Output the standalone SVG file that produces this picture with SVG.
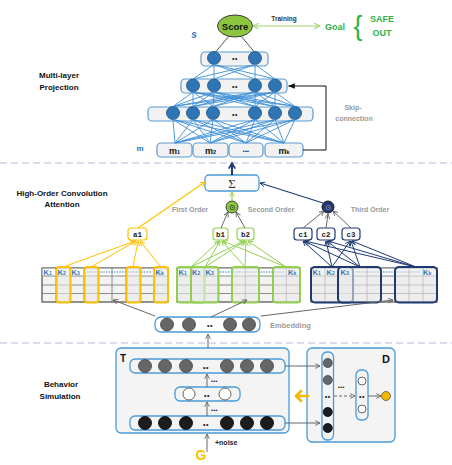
<svg xmlns="http://www.w3.org/2000/svg" width="452" height="465" viewBox="0 0 452 465">
<style>
text{font-family:"Liberation Sans",Arial,sans-serif;font-weight:bold}
.lbl{font-size:8px;fill:#111;text-anchor:middle}
.gray{fill:#9a9a9a;font-size:7px;text-anchor:middle}
.pbox{fill:#f2f2f2;stroke:#5b9bd5;stroke-width:1.2}
.pn{fill:#2e75b6;stroke:#1f4e79;stroke-width:0.8}
.bl{stroke:#3d8fd6;stroke-width:0.9;fill:none}
.sep{stroke:#bdb5dc;stroke-width:1.2;stroke-dasharray:7 4}
.grid{fill:#f3f3f3;stroke:#707070;stroke-width:1}
.gl{stroke:#808080;stroke-width:0.9}
.k{font-size:7.5px;fill:#2e75b6}
.ks{font-size:5px}
.dotl{stroke:#2e75b6;stroke-width:1;stroke-dasharray:1.5 1.2}
.yel{stroke:#ffc000;fill:none}
.grn{stroke:#92d050;fill:none}
.nav{stroke:#1f3a73;fill:none}
.gn{fill:#666;stroke:#444;stroke-width:0.8}
.bn{fill:#1c1c1c;stroke:#000;stroke-width:0.8}
.wn{fill:#fff;stroke:#555;stroke-width:0.9}
.ar{stroke:#666;stroke-width:1;fill:none}
.dd{font-size:7px;fill:#222;text-anchor:middle;letter-spacing:0.6px}
.d3{font-size:5.5px;fill:#222;letter-spacing:0.3px}
.mono{font-family:"Liberation Mono","Courier New",monospace;font-size:7.5px;fill:#222;text-anchor:middle}
.hl{fill:#e9e9e9;fill-opacity:0.6;stroke-width:2}
</style>
<defs>
<marker id="ga" viewBox="0 0 10 10" refX="9" refY="5" markerWidth="6" markerHeight="6" markerUnits="userSpaceOnUse" orient="auto"><path d="M1,1 L9,5 L1,9" fill="none" stroke="#666" stroke-width="1.5"/></marker>
<marker id="ba" viewBox="0 0 10 10" refX="9" refY="5" markerWidth="7" markerHeight="7" markerUnits="userSpaceOnUse" orient="auto"><path d="M0,1 L10,5 L0,9 z" fill="#111"/></marker>
<marker id="ya" viewBox="0 0 10 10" refX="9" refY="5" markerWidth="6" markerHeight="6" markerUnits="userSpaceOnUse" orient="auto"><path d="M1,1 L9,5 L1,9" fill="none" stroke="#ffc000" stroke-width="1.5"/></marker>
<marker id="gra" viewBox="0 0 10 10" refX="9" refY="5" markerWidth="6" markerHeight="6" markerUnits="userSpaceOnUse" orient="auto"><path d="M1,1 L9,5 L1,9" fill="none" stroke="#92d050" stroke-width="1.5"/></marker>
<marker id="na" viewBox="0 0 10 10" refX="9" refY="5" markerWidth="6" markerHeight="6" markerUnits="userSpaceOnUse" orient="auto"><path d="M1,1 L9,5 L1,9" fill="none" stroke="#1f3a73" stroke-width="1.5"/></marker>
<marker id="lga" viewBox="0 0 10 10" refX="9" refY="5" markerWidth="7" markerHeight="7" markerUnits="userSpaceOnUse" orient="auto-start-reverse"><path d="M1,1 L9,5 L1,9" fill="none" stroke="#9fd46a" stroke-width="1.5"/></marker>
<marker id="nup" viewBox="0 0 10 10" refX="8" refY="5" markerWidth="8" markerHeight="8" markerUnits="userSpaceOnUse" orient="auto"><path d="M1,1 L8,5 L1,9" fill="none" stroke="#1f3a73" stroke-width="2.2"/></marker>
</defs>

<!-- separators -->
<line class="sep" x1="0" y1="163" x2="452" y2="163"/>
<line class="sep" x1="0" y1="343" x2="452" y2="343"/>

<!-- section labels -->
<g id="labels">
<text class="lbl" x="59" y="78">Multi-layer</text>
<text class="lbl" x="59" y="90">Projection</text>
<text class="lbl" x="62" y="196">High-Order Convolution</text>
<text class="lbl" x="62" y="207">Attention</text>
<text class="lbl" x="61" y="387">Behavior</text>
<text class="lbl" x="60" y="399">Simulation</text>
</g>

<!-- Score / goal -->
<g id="score">
<ellipse cx="235" cy="26" rx="17.5" ry="11" fill="#8cc63f" stroke="#3a3a3a" stroke-width="1"/>
<text x="235" y="29.5" font-size="9.5" text-anchor="middle" fill="#111">Score</text>
</g>
<text x="284" y="21" font-size="6.5" text-anchor="middle" fill="#333">Training</text>
<g id="goal">
<text x="335" y="29.5" font-size="9" text-anchor="middle" fill="#2db34a">Goal</text>
<text x="358" y="35" font-size="27" text-anchor="middle" fill="#2db34a" style="font-weight:normal">{</text>
<text x="382" y="22" font-size="9" text-anchor="middle" fill="#2db34a">SAFE</text>
<text x="382" y="36" font-size="9" text-anchor="middle" fill="#2db34a">OUT</text>
</g>
<text x="194" y="38" font-size="10" font-style="italic" fill="#2e75b6" text-anchor="middle">s</text>
<text x="140" y="151" font-size="8" fill="#2e75b6" text-anchor="middle">m</text>

<!-- projection layers -->
<g id="layer1">
<rect class="pbox" x="201" y="52" width="67" height="14" rx="4"/>
<circle class="pn" cx="214" cy="58" r="6.5"/><circle class="pn" cx="255" cy="58" r="6.5"/>
<text class="dd" x="235" y="61">••</text>
</g>
<g id="layer2">
<rect class="pbox" x="181" y="79" width="106" height="14" rx="4"/>
<circle class="pn" cx="193" cy="85.5" r="6.5"/><circle class="pn" cx="214" cy="85.5" r="6.5"/>
<circle class="pn" cx="255" cy="85.5" r="6.5"/><circle class="pn" cx="275" cy="85.5" r="6.5"/>
<text class="dd" x="235" y="89">••</text>
</g>
<g id="layer3">
<rect class="pbox" x="148" y="107" width="165" height="14" rx="4"/>
<circle class="pn" cx="173" cy="113" r="6.5"/><circle class="pn" cx="193" cy="113" r="6.5"/><circle class="pn" cx="213" cy="113" r="6.5"/>
<circle class="pn" cx="255" cy="113" r="6.5"/><circle class="pn" cx="275" cy="113" r="6.5"/><circle class="pn" cx="295" cy="113" r="6.5"/>
<text class="dd" x="235" y="117">••</text>
</g>
<g id="m-boxes">
<rect class="pbox" x="157" y="143" width="35" height="14" rx="4"/>
<rect class="pbox" x="193" y="143" width="35" height="14" rx="4"/>
<rect class="pbox" x="229" y="143" width="34" height="14" rx="4"/>
<rect class="pbox" x="265" y="143" width="38" height="14" rx="4"/>
<text x="174.5" y="153.5" font-size="9" text-anchor="middle" fill="#111">m<tspan font-size="5.5">1</tspan></text>
<text x="210.5" y="153.5" font-size="9" text-anchor="middle" fill="#111">m<tspan font-size="5.5">2</tspan></text>
<text class="d3" x="246" y="153" text-anchor="middle">•••</text>
<text x="284" y="153.5" font-size="9" text-anchor="middle" fill="#111">m<tspan font-size="5.5">k</tspan></text>
</g>
<text class="gray" x="353" y="110" font-size="7.5">Skip-</text>
<text class="gray" x="354" y="121" font-size="7.5">connection</text>

<!-- attention -->
<g id="sigma">
<rect x="205" y="175" width="54" height="16" rx="4" fill="#fbfbfb" stroke="#4a9ad8" stroke-width="1.3"/>
<text x="232" y="188" font-size="13" text-anchor="middle" fill="#333" style="font-family:'Liberation Serif',serif;font-weight:normal">Σ</text>
</g>
<g id="prod2">
<circle cx="232" cy="207" r="6" fill="#8cc63f" stroke="#333" stroke-width="0.9"/>
<text x="232" y="210" font-size="8" text-anchor="middle" fill="#222" style="font-family:'DejaVu Sans',sans-serif;font-weight:normal">⊙</text>
</g>
<g id="prod3">
<circle cx="328" cy="207" r="6" fill="#1f3a73" stroke="#111" stroke-width="0.9"/>
<text x="328" y="210" font-size="8" text-anchor="middle" fill="#99a" style="font-family:'DejaVu Sans',sans-serif;font-weight:normal">⊙</text>
</g>
<text class="gray" x="190" y="212">First Order</text>
<text class="gray" x="271" y="212">Second Order</text>
<text class="gray" x="370" y="212">Third Order</text>

<g id="a1"><rect x="128" y="228" width="19" height="12" rx="3" fill="#fff" stroke="#ffc000" stroke-width="1.2"/><text class="mono" x="137.5" y="236.5">a1</text></g>
<g id="b1"><rect x="213" y="228" width="15" height="12" rx="3" fill="#fff" stroke="#92d050" stroke-width="1.2"/><text class="mono" x="220.5" y="236.5">b1</text></g>
<g id="b2"><rect x="237" y="228" width="17" height="12" rx="3" fill="#fff" stroke="#92d050" stroke-width="1.2"/><text class="mono" x="245.5" y="236.5">b2</text></g>
<g id="c1"><rect x="294" y="228" width="18" height="12" rx="3" fill="#fff" stroke="#1f3a73" stroke-width="1.2"/><text class="mono" x="303" y="236.5">c1</text></g>
<g id="c2"><rect x="317" y="228" width="18" height="12" rx="3" fill="#fff" stroke="#1f3a73" stroke-width="1.2"/><text class="mono" x="326" y="236.5">c2</text></g>
<g id="c3"><rect x="342" y="228" width="18" height="12" rx="3" fill="#fff" stroke="#1f3a73" stroke-width="1.2"/><text class="mono" x="351" y="236.5">c3</text></g>

<!-- grids -->
<g id="grid-yellow">
<rect class="grid" x="42" y="268" width="126" height="34"/>
<rect x="42" y="268" width="126" height="8" fill="#fff"/>
<path class="gl" d="M42 276H168M42 285H168M42 293.5H168M56 268V302M70 268V302M84 268V302M98 268V302M112 268V302M126 268V302M140 268V302M154 268V302"/>
<rect x="42" y="268" width="126" height="34" fill="none" stroke="#707070"/>
<text class="k" x="43.5" y="275">K<tspan class="ks">1</tspan></text>
<text class="k" x="71.5" y="275">K<tspan class="ks">3</tspan></text>
<line class="dotl" x1="87" y1="272" x2="152" y2="272"/>
<rect class="yel hl" x="56.5" y="267" width="14" height="35.5" rx="3"/>
<rect class="yel hl" x="84.5" y="267" width="14" height="35.5" rx="3"/>
<rect class="yel hl" x="126.5" y="267" width="14" height="35.5" rx="3"/>
<rect class="yel hl" x="154" y="267" width="14" height="35.5" rx="3"/>
<text class="k" x="57.5" y="275">K<tspan class="ks">2</tspan></text>
<text class="k" x="155.5" y="275">K<tspan class="ks">k</tspan></text>
</g>
<g id="grid-green">
<rect class="grid" x="177" y="268" width="123" height="34"/>
<rect x="177" y="268" width="123" height="8" fill="#fff"/>
<path class="gl" d="M177 276H300M177 285H300M177 293.5H300M190.7 268V302M204.3 268V302M218 268V302M231.7 268V302M245.3 268V302M259 268V302M272.7 268V302M286.3 268V302"/>
<rect x="177" y="268" width="123" height="34" fill="none" stroke="#707070"/>
<line class="dotl" x1="220" y1="272" x2="284" y2="272"/>
<rect class="grn hl" x="177" y="267" width="27.5" height="35.5" rx="3"/>
<rect class="grn hl" x="191" y="267" width="27.5" height="35.5" rx="3"/>
<rect class="grn hl" x="232" y="267" width="27" height="35.5" rx="3"/>
<rect class="grn hl" x="273" y="267" width="27" height="35.5" rx="3"/>
<text class="k" x="178.5" y="275">K<tspan class="ks">1</tspan></text>
<text class="k" x="192" y="275">K<tspan class="ks">2</tspan></text>
<text class="k" x="205.5" y="275">K<tspan class="ks">3</tspan></text>
<text class="k" x="288" y="275">K<tspan class="ks">k</tspan></text>
</g>
<g id="grid-navy">
<rect class="grid" x="311" y="268" width="126" height="34"/>
<rect x="311" y="268" width="126" height="8" fill="#fff"/>
<path class="gl" d="M311 276H437M311 285H437M311 293.5H437M325 268V302M339 268V302M353 268V302M367 268V302M381 268V302M395 268V302M409 268V302M423 268V302"/>
<rect x="311" y="268" width="126" height="34" fill="none" stroke="#707070"/>
<line class="dotl" x1="356" y1="272" x2="421" y2="272"/>
<rect class="nav hl" x="311" y="267" width="42" height="35.5" rx="4"/>
<rect class="nav hl" x="338" y="267" width="43" height="35.5" rx="4"/>
<rect class="nav hl" x="395" y="267" width="42" height="35.5" rx="4"/>
<text class="k" x="312.5" y="275">K<tspan class="ks">1</tspan></text>
<text class="k" x="326.5" y="275">K<tspan class="ks">2</tspan></text>
<text class="k" x="340.5" y="275">K<tspan class="ks">3</tspan></text>
<text class="k" x="423" y="275">K<tspan class="ks">k</tspan></text>
</g>

<!-- embedding -->
<g id="embedding">
<rect x="155" y="317" width="105" height="15" rx="6" fill="#fff" stroke="#4a9ad8" stroke-width="1.3"/>
<circle class="gn" cx="167" cy="324.5" r="6.5"/><circle class="gn" cx="189" cy="324.5" r="6.5"/>
<circle class="gn" cx="230" cy="324.5" r="6.5"/><circle class="gn" cx="249" cy="324.5" r="6.5"/>
<text class="dd" x="210" y="328">••</text>
</g>
<text x="270" y="328" font-size="7.5" fill="#9a9a9a">Embedding</text>

<!-- behavior simulation -->
<g id="T">
<rect x="116" y="348" width="173" height="85" rx="5" fill="#f4f4f4" stroke="#4a9ad8" stroke-width="1.3"/>
<text x="120" y="362" font-size="10" fill="#111">T</text>
<rect x="130" y="359" width="155" height="14" rx="5" fill="none" stroke="#4a9ad8" stroke-width="1.3"/>
<circle class="gn" cx="145" cy="366" r="6.5"/><circle class="gn" cx="165" cy="366" r="6.5"/><circle class="gn" cx="186" cy="366" r="6.5"/>
<circle class="gn" cx="227" cy="366" r="6.5"/><circle class="gn" cx="247" cy="366" r="6.5"/><circle class="gn" cx="267" cy="366" r="6.5"/>
<text class="dd" x="206" y="370">••</text>
<rect x="175" y="387" width="65" height="14" rx="5" fill="none" stroke="#4a9ad8" stroke-width="1.3"/>
<circle class="wn" cx="189" cy="394" r="6"/><circle class="wn" cx="225" cy="394" r="6"/>
<text class="dd" x="207" y="398">••</text>
<rect x="130" y="416" width="155" height="14" rx="5" fill="none" stroke="#4a9ad8" stroke-width="1.3"/>
<circle class="bn" cx="145" cy="423" r="6.5"/><circle class="bn" cx="165" cy="423" r="6.5"/><circle class="bn" cx="186" cy="423" r="6.5"/>
<circle class="bn" cx="227" cy="423" r="6.5"/><circle class="bn" cx="247" cy="423" r="6.5"/><circle class="bn" cx="267" cy="423" r="6.5"/>
<text class="dd" x="206" y="427">••</text>
<text class="d3" x="211" y="383">•••</text>
<text class="d3" x="211" y="412">•••</text>
</g>
<g id="D">
<rect x="307" y="348" width="88" height="94" rx="5" fill="#f4f4f4" stroke="#4a9ad8" stroke-width="1.3"/>
<text x="382" y="363" font-size="11" fill="#111">D</text>
<rect x="322" y="352" width="11.5" height="88" rx="5" fill="none" stroke="#4a9ad8" stroke-width="1.3"/>
<circle class="gn" cx="327.75" cy="363" r="4.5"/><circle class="gn" cx="327.75" cy="380" r="4.5"/>
<circle class="bn" cx="327.75" cy="412" r="4.5"/><circle class="bn" cx="327.75" cy="428" r="4.5"/>
<text class="dd" x="327.75" y="399">••</text>
<text class="d3" x="338" y="389">•••</text>
<rect x="356" y="370" width="12" height="50" rx="5" fill="none" stroke="#4a9ad8" stroke-width="1.3"/>
<circle class="wn" cx="362" cy="381" r="4"/><circle class="wn" cx="362" cy="409" r="4"/>
<text class="dd" x="362" y="399">••</text>
<circle cx="386" cy="396" r="4.5" fill="#f5b800" stroke="#555" stroke-width="0.8"/>
</g>
<text x="215" y="445" font-size="7" fill="#222">+noise</text>
<g id="G"><text x="201" y="460" font-size="14" fill="#ffc000" text-anchor="middle">G</text></g>

<!-- connectors -->
<g id="connectors">
<path d="M229 36 L216 51.5 M241 36 L254 51.5" stroke="#555" stroke-width="1" fill="none"/>
<line x1="253" y1="26" x2="320" y2="26" stroke="#9fd46a" stroke-width="1.2" marker-start="url(#lga)" marker-end="url(#lga)"/>
<path class="bl" d="M193 79L214 64.5M193 79L255 64.5M214 79L214 64.5M214 79L255 64.5M255 79L214 64.5M255 79L255 64.5M275 79L214 64.5M275 79L255 64.5"/>
<path class="bl" d="M173 106.5L193 92M173 106.5L214 92M173 106.5L255 92M173 106.5L275 92M193 106.5L193 92M193 106.5L214 92M193 106.5L255 92M193 106.5L275 92M213 106.5L193 92M213 106.5L214 92M213 106.5L255 92M213 106.5L275 92M255 106.5L193 92M255 106.5L214 92M255 106.5L255 92M255 106.5L275 92M275 106.5L193 92M275 106.5L214 92M275 106.5L255 92M275 106.5L275 92M295 106.5L193 92M295 106.5L214 92M295 106.5L255 92M295 106.5L275 92"/>
<path class="bl" d="M175 143L173 119.5M175 143L193 119.5M175 143L213 119.5M175 143L255 119.5M175 143L275 119.5M175 143L295 119.5M210 143L173 119.5M210 143L193 119.5M210 143L213 119.5M210 143L255 119.5M210 143L275 119.5M210 143L295 119.5M246 143L173 119.5M246 143L193 119.5M246 143L213 119.5M246 143L255 119.5M246 143L275 119.5M246 143L295 119.5M284 143L173 119.5M284 143L193 119.5M284 143L213 119.5M284 143L255 119.5M284 143L275 119.5M284 143L295 119.5"/>
<path d="M303 150 H326 V86 H288.5" stroke="#111" stroke-width="1" fill="none" marker-end="url(#ba)"/>
<line x1="232" y1="175" x2="232" y2="163" stroke="#1f3a73" stroke-width="2" marker-end="url(#nup)"/>
<line x1="138" y1="228" x2="205" y2="182" stroke="#ffc000" stroke-width="1.2" marker-end="url(#ya)"/>
<line x1="232" y1="201" x2="232" y2="192" stroke="#92d050" stroke-width="1.2" marker-end="url(#gra)"/>
<line x1="323" y1="203" x2="260" y2="183" stroke="#1f3a73" stroke-width="1.2" marker-end="url(#na)"/>
<line class="ar" x1="221" y1="228" x2="228" y2="212" marker-end="url(#ga)"/>
<line class="ar" x1="245" y1="228" x2="236" y2="212" marker-end="url(#ga)"/>
<line class="ar" x1="303" y1="228" x2="324" y2="211" marker-end="url(#ga)"/>
<line class="ar" x1="326" y1="228" x2="328" y2="214" marker-end="url(#ga)"/>
<line class="ar" x1="351" y1="228" x2="333" y2="211" marker-end="url(#ga)"/>
<g stroke="#ffc000" stroke-width="1" fill="none">
<line x1="63" y1="267" x2="135" y2="241" marker-end="url(#ya)"/>
<line x1="91" y1="267" x2="136" y2="241" marker-end="url(#ya)"/>
<line x1="133" y1="267" x2="138" y2="241" marker-end="url(#ya)"/>
<line x1="161" y1="267" x2="140" y2="241" marker-end="url(#ya)"/>
</g>
<g stroke="#92d050" stroke-width="1" fill="none">
<line x1="191" y1="267" x2="219" y2="241" marker-end="url(#gra)"/>
<line x1="191" y1="267" x2="244" y2="241" marker-end="url(#gra)"/>
<line x1="205" y1="267" x2="220" y2="241" marker-end="url(#gra)"/>
<line x1="205" y1="267" x2="245" y2="241" marker-end="url(#gra)"/>
<line x1="245" y1="267" x2="222" y2="241" marker-end="url(#gra)"/>
<line x1="245" y1="267" x2="246" y2="241" marker-end="url(#gra)"/>
<line x1="286" y1="267" x2="223" y2="241" marker-end="url(#gra)"/>
<line x1="286" y1="267" x2="248" y2="241" marker-end="url(#gra)"/>
</g>
<g stroke="#1f3a73" stroke-width="1" fill="none">
<line x1="332" y1="267" x2="303" y2="241" marker-end="url(#na)"/>
<line x1="332" y1="267" x2="326" y2="241" marker-end="url(#na)"/>
<line x1="332" y1="267" x2="350" y2="241" marker-end="url(#na)"/>
<line x1="360" y1="267" x2="304" y2="241" marker-end="url(#na)"/>
<line x1="360" y1="267" x2="327" y2="241" marker-end="url(#na)"/>
<line x1="360" y1="267" x2="351" y2="241" marker-end="url(#na)"/>
<line x1="416" y1="267" x2="305" y2="241" marker-end="url(#na)"/>
<line x1="416" y1="267" x2="328" y2="241" marker-end="url(#na)"/>
<line x1="416" y1="267" x2="352" y2="241" marker-end="url(#na)"/>
</g>
<line class="ar" x1="155" y1="316" x2="113" y2="300" marker-end="url(#ga)"/>
<line class="ar" x1="211" y1="317" x2="247" y2="300" marker-end="url(#ga)"/>
<line class="ar" x1="261" y1="316" x2="393" y2="300" marker-end="url(#ga)"/>
<line class="ar" x1="208" y1="348" x2="208" y2="334" stroke-width="1.3" marker-end="url(#ga)"/>
<line class="ar" x1="207" y1="387" x2="207" y2="374" marker-end="url(#ga)"/>
<line class="ar" x1="207" y1="416" x2="207" y2="402" marker-end="url(#ga)"/>
<line class="ar" x1="207" y1="452" x2="207" y2="434" stroke-width="1.3" marker-end="url(#ga)"/>
<line class="ar" x1="285" y1="366" x2="320" y2="366" marker-end="url(#ga)"/>
<line class="ar" x1="285" y1="423" x2="320" y2="423" marker-end="url(#ga)"/>
<line class="ar" x1="334" y1="396" x2="355" y2="396" stroke-dasharray="3 2" marker-end="url(#ga)"/>
<line class="ar" x1="368" y1="396" x2="381" y2="396" marker-end="url(#ga)"/>
<path d="M308 396 H296 M301 391 L296 396 L301 401" stroke="#f5b800" stroke-width="2.6" fill="none" stroke-linecap="round" stroke-linejoin="round"/>
</g>
</svg>
